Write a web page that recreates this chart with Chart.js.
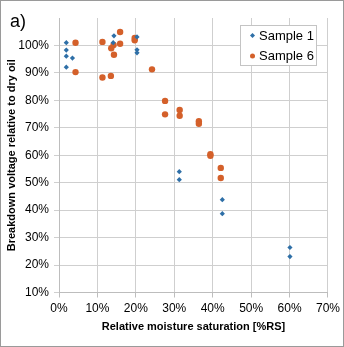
<!DOCTYPE html>
<html lang="en">
<head>
    <meta charset="UTF-8">
    <title>Breakdown voltage vs moisture saturation</title>
    <script src="https://cdn.jsdelivr.net/npm/chart.js"></script>
    <style>
        html, body { margin: 0; padding: 0; background: #fff; }
        #wrap { width: 344px; height: 347px; position: relative; }
    </style>
</head>
<body>
<div id="wrap"><canvas id="grafico" width="344" height="347"></canvas></div>
<script>
    // values (% RS, % of dry oil breakdown voltage)
    const sample1X = [1.9, 1.9, 1.9, 1.9, 3.5, 14.3, 14.1, 20.3, 20.3, 20.3, 31.3, 31.3, 42.5, 42.5, 60.1, 60.1];
    const sample1Y = [101, 98.3, 96.1, 92.1, 95.4, 103.5, 101, 103.1, 98.4, 97.3, 54, 51.1, 43.8, 38.7, 26.4, 23.1];
    const sample6X = [4.3, 4.3, 11.3, 11.3, 13.5, 15.9, 14.2, 13.6, 14.3, 15.9, 19.7, 19.7, 24.2, 27.6, 27.6, 31.4, 31.4, 36.4, 36.4, 39.4, 39.4, 42.1, 42.1];
    const sample6Y = [101, 90.3, 101.3, 88.3, 88.9, 104.9, 100.2, 99, 96.6, 100.6, 102.7, 101.9, 91.3, 79.8, 74.9, 76.5, 74.4, 72.4, 71.5, 60.4, 59.8, 55.4, 51.7];
    const seriesNames = ['Sample 1', 'Sample 6'];
    const xTicks = [0, 10, 20, 30, 40, 50, 60, 70];
    const yTicks = [10, 20, 30, 40, 50, 60, 70, 80, 90, 100];

    const azul = '#2E6FA7';
    const laranja = '#D4602A';
    const fonte = "'Liberation Sans', 'Noto Sans', sans-serif";

    const pares = (xs, ys) => xs.map((x, i) => ({ x: x, y: ys[i] }));

    // legenda, letra "a)" e moldura desenhadas por cima
    const extras = {
        id: 'extras',
        afterDraw(chart) {
            const ctx = chart.ctx;
            ctx.save();
            ctx.strokeStyle = '#9a9a9a';
            ctx.lineWidth = 1;
            ctx.strokeRect(0.5, 0.5, chart.width - 1, chart.height - 1);

            ctx.fillStyle = '#000';
            ctx.font = '18px ' + fonte;
            ctx.textBaseline = 'middle';
            ctx.textAlign = 'left';
            ctx.fillText('a)', 10, 22);

            ctx.fillStyle = '#fff';
            ctx.fillRect(240.5, 25.5, 76, 40);
            ctx.strokeStyle = '#c4c4c4';
            ctx.strokeRect(240.5, 25.5, 76, 40);
            const cores = [azul, laranja];
            seriesNames.forEach((nome, i) => {
                const y = 35.5 + i * 20.5;
                ctx.fillStyle = cores[i];
                ctx.beginPath();
                if (i === 0) {
                    ctx.moveTo(252.5, y - 2.5); ctx.lineTo(255, y); ctx.lineTo(252.5, y + 2.5); ctx.lineTo(250, y);
                } else {
                    ctx.arc(252.5, y, 2.5, 0, Math.PI * 2);
                }
                ctx.fill();
                ctx.fillStyle = '#000';
                ctx.font = '13px ' + fonte;
                ctx.fillText(nome, 259, y + 0.5);
            });
            ctx.restore();
        }
    };

    const gradeCor = c => (c.tick && c.tick.value === 110) ? 'rgba(0,0,0,0)' : '#cfcfcf';

    new Chart(document.getElementById('grafico').getContext('2d'), {
        type: 'scatter',
        data: {
            datasets: [{
                label: seriesNames[0],
                data: pares(sample1X, sample1Y),
                pointStyle: 'rectRot',
                pointRadius: 2.6,
                backgroundColor: azul,
                borderColor: azul,
                borderWidth: 0
            }, {
                label: seriesNames[1],
                data: pares(sample6X, sample6Y),
                pointStyle: 'circle',
                pointRadius: 3.2,
                backgroundColor: laranja,
                borderColor: laranja,
                borderWidth: 0
            }]
        },
        options: {
            responsive: false,
            animation: false,
            devicePixelRatio: 1,
            layout: { padding: { left: 5, top: 18, right: 16, bottom: 13 } },
            plugins: {
                legend: { display: false },
                tooltip: { enabled: false }
            },
            scales: {
                x: {
                    type: 'linear',
                    min: 0,
                    max: 70,
                    afterBuildTicks: s => { s.ticks = xTicks.map(v => ({ value: v })); },
                    afterFit: s => { s.height = 41.5; },
                    ticks: {
                        callback: v => v + '%',
                        color: '#000',
                        font: { family: fonte, size: 12 },
                        padding: 4,
                        maxRotation: 0
                    },
                    grid: {
                        color: '#cfcfcf',
                        borderDash: [1, 2],
                        tickLength: 5,
                        tickColor: '#bdbdbd',
                        tickBorderDash: []
                    },
                    border: { display: true, color: '#bdbdbd', width: 1 },
                    title: {
                        display: true,
                        text: 'Relative moisture saturation [%RS]',
                        color: '#000',
                        font: { family: fonte, size: 11, weight: 'bold' },
                        padding: { top: 4, bottom: 0 }
                    }
                },
                y: {
                    type: 'linear',
                    min: 10,
                    max: 110,
                    afterBuildTicks: s => { s.ticks = yTicks.concat([110]).map(v => ({ value: v })); },
                    afterFit: s => { s.width = 54; },
                    ticks: {
                        callback: v => v === 110 ? '' : v + '%',
                        color: '#000',
                        font: { family: fonte, size: 12 },
                        padding: 5
                    },
                    grid: {
                        color: gradeCor,
                        borderDash: [1, 2],
                        tickLength: 5,
                        tickColor: gradeCor,
                        tickBorderDash: []
                    },
                    border: { display: true, color: '#bdbdbd', width: 1 },
                    title: {
                        display: true,
                        text: 'Breakdown voltage relative to dry oil',
                        color: '#000',
                        font: { family: fonte, size: 11, weight: 'bold' },
                        padding: { top: 0, bottom: 4 }
                    }
                }
            }
        },
        plugins: [extras]
    });
</script>
</body>
</html>
